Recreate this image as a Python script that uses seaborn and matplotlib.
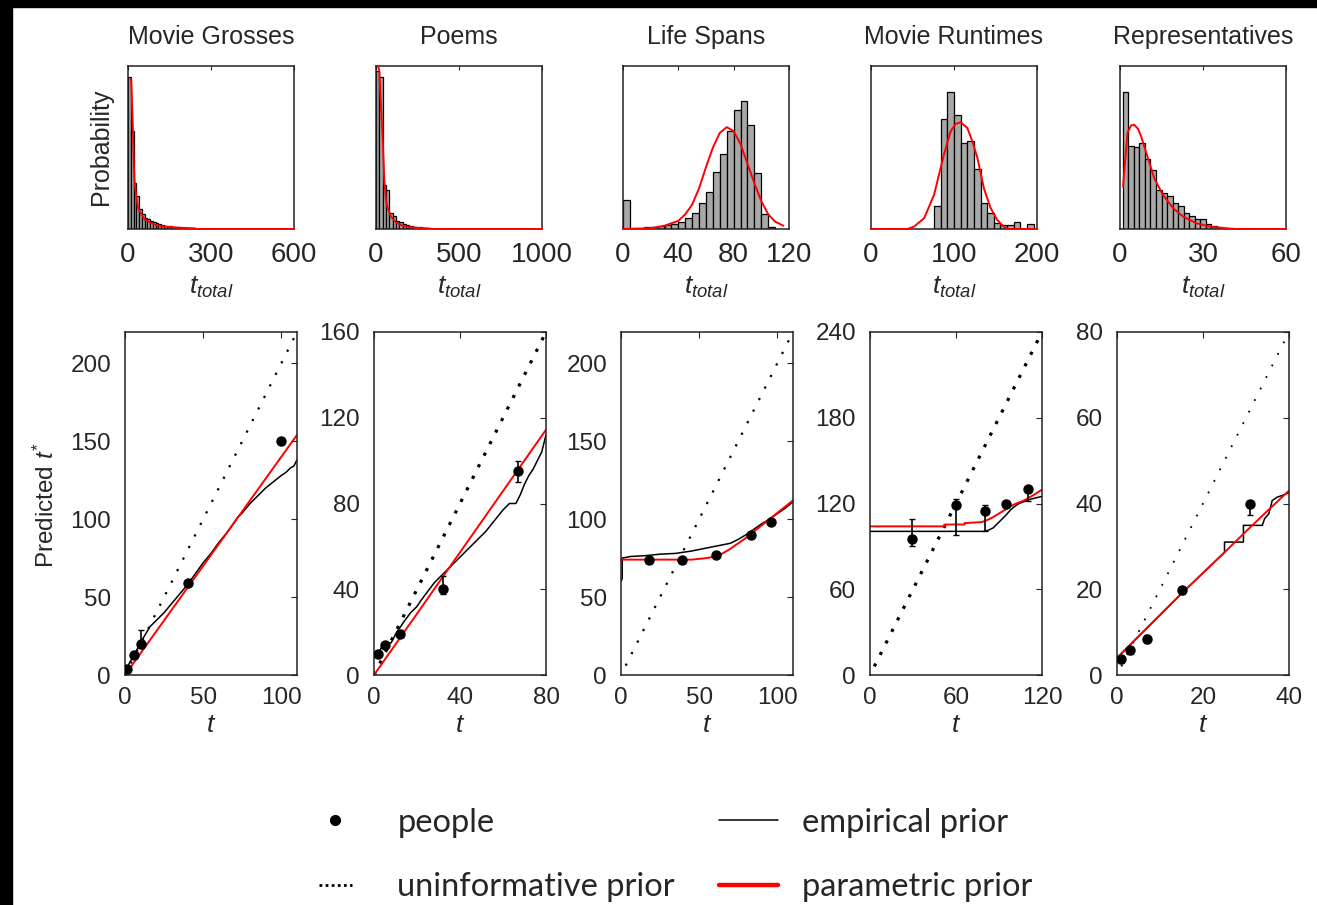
import matplotlib
matplotlib.use('Agg')
import matplotlib.pyplot as plt
from matplotlib.lines import Line2D
from matplotlib.patches import Rectangle
import numpy as np
import seaborn as sns

#%%
titles = ['Movie Grosses', 'Poems', 'Life Spans', 'Movie Runtimes', 'Representatives']

# top row: prior histograms (bin edges + relative heights) and parametric fits
grosses_edges = list(range(0, 250, 10))
grosses_heights = [0.93, 0.6, 0.28, 0.2, 0.12, 0.09, 0.07, 0.06, 0.05, 0.04, 0.035, 0.03,
                   0.025, 0.02, 0.018, 0.016, 0.014, 0.012, 0.01, 0.009, 0.008, 0.007, 0.006, 0.005]
grosses_fit_x = [10, 12, 15, 18, 21, 24, 30, 36, 48, 60, 80, 100, 130, 180, 240, 250, 600]
grosses_fit_y = [0.92, 0.9, 0.75, 0.6, 0.4, 0.28, 0.2, 0.13, 0.09, 0.06, 0.04, 0.025, 0.015, 0.008, 0.004, 0.0, 0.0]

poems_edges = list(range(0, 340, 20))
poems_heights = [0.97, 0.93, 0.27, 0.24, 0.1, 0.08, 0.05, 0.04, 0.03, 0.025, 0.02, 0.015,
                 0.012, 0.01, 0.008, 0.006]
poems_fit_x = [12, 20, 30, 40, 50, 60, 70, 90, 120, 160, 200, 260, 320, 340, 1000]
poems_fit_y = [1.0, 0.97, 0.75, 0.56, 0.3, 0.18, 0.13, 0.076, 0.04, 0.02, 0.012, 0.006, 0.003, 0.0, 0.0]

lifespan_edges = list(range(0, 115, 5))
lifespan_heights = [0.18, 0, 0, 0.01, 0.015, 0.02, 0.025, 0.03, 0.04, 0.066, 0.1, 0.16,
                    0.23, 0.35, 0.46, 0.6, 0.73, 0.785, 0.64, 0.345, 0.09, 0.01]
lifespan_fit_x = [0, 20, 30, 40, 45, 50, 55, 60, 65, 70, 75, 80, 85, 90, 95, 100, 105, 110, 116]
lifespan_fit_y = [0.0, 0.005, 0.02, 0.05, 0.09, 0.15, 0.25, 0.38, 0.5, 0.59, 0.625, 0.6, 0.52,
                  0.4, 0.28, 0.17, 0.09, 0.045, 0.02]

runtime_edges = list(range(76, 204, 8))
runtime_heights = [0.14, 0.675, 0.84, 0.7, 0.53, 0.54, 0.366, 0.16, 0.1, 0.035, 0.025, 0.025,
                   0.045, 0, 0.03]
runtime_fit_x = [0, 44, 52, 64, 76, 88, 96, 102, 108, 116, 122, 128, 136, 144, 152, 160, 166, 200]
runtime_fit_y = [0, 0, 0.015, 0.066, 0.21, 0.46, 0.6, 0.645, 0.655, 0.62, 0.54, 0.44, 0.25,
                 0.13, 0.056, 0.015, 0, 0]

reps_edges = list(range(1, 41, 2))
reps_heights = [0.84, 0.51, 0.5, 0.53, 0.43, 0.36, 0.24, 0.22, 0.2, 0.16, 0.14, 0.1, 0.08,
                0.06, 0.06, 0.03, 0.02, 0.01, 0.005]
reps_fit_x = [1.1, 2.7, 4, 5.1, 6.5, 7.6, 10, 12.4, 15.5, 19.2, 22.8, 27.7, 32.6, 37, 41.7, 60]
reps_fit_y = [0.26, 0.59, 0.635, 0.64, 0.615, 0.57, 0.44, 0.31, 0.21, 0.128, 0.076, 0.035,
              0.014, 0.006, 0.0, 0.0]

hist_xlim = [600, 1000, 120, 200, 60]
hist_xticks = [[0, 300, 600], [0, 500, 1000], [0, 40, 80, 120], [0, 100, 200], [0, 30, 60]]

#%%
# bottom row: predictions
grosses_emp_x = [0, 1, 3, 6, 10, 13, 16, 20, 25, 30, 35, 40, 45, 50, 55, 60, 65, 70, 72, 75,
                 80, 85, 90, 95, 100, 103, 106, 108, 110]
grosses_emp_y = [0, 4, 8, 13, 21, 26, 31, 35, 40, 46, 52, 58, 65, 72, 78, 85, 91, 98, 101, 104,
                 110, 115, 120, 124, 128, 130, 133, 134, 138]
grosses_par_x = [0, 20, 40, 60, 80, 100, 110]
grosses_par_y = [0, 28, 56, 84, 112, 140, 154]
grosses_unif_x = [0, 110]
grosses_unif_y = [0, 220]
grosses_people_t = [1, 6, 10, 40, 100]
grosses_people = [4, 13, 20, 59, 150]
grosses_err_lo = [1, 1, 3, 1, 1]
grosses_err_hi = [1, 1, 9, 1, 1]

poems_emp_x = [0, 2, 3.5, 5, 6.5, 8, 10, 12, 14, 17, 20, 22, 25, 28, 32, 36, 40, 44, 48, 52,
               56, 60, 63, 66, 68, 70, 72, 74, 76, 78, 80]
poems_emp_y = [9, 10, 13, 14, 15, 15, 19, 22, 25, 29, 32, 35, 39, 43, 47, 51, 55, 59, 63, 67,
               72, 77, 80, 80, 84, 89, 93, 96, 100, 104, 112]
poems_par_x = [0, 20, 40, 60, 80]
poems_par_y = [0, 28.6, 57.2, 85.8, 114.4]
poems_unif_x = [0, 80]
poems_unif_y = [0, 160]
poems_people_t = [2, 5, 12, 32, 67]
poems_people = [10, 14, 19, 40, 95]
poems_err_lo = [1, 1, 1, 2, 5]
poems_err_hi = [1, 1, 2, 6, 5]

lifespan_emp_x = [0, 0.8, 0.8, 6, 15, 25, 35, 45, 50, 55, 60, 65, 70, 75, 80, 85, 90, 95, 100,
                  105, 110]
lifespan_emp_y = [60, 62, 75, 76, 76.5, 77.5, 78, 79.5, 80.5, 81.5, 82.5, 83.5, 84.5, 87, 90,
                  93.5, 97, 100, 103.5, 107, 111]
lifespan_par_x = [0, 10, 20, 30, 40, 45, 50, 55, 60, 65, 70, 75, 80, 85, 90, 95, 100, 105, 110]
lifespan_par_y = [74, 74, 74, 74, 74, 74, 74.5, 75, 76, 78, 81, 84.5, 88, 92, 96, 100, 104, 108, 112]
lifespan_unif_x = [3, 110]
lifespan_unif_y = [6, 220]
lifespan_people_t = [18, 39, 61, 83, 96]
lifespan_people = [74, 74, 77, 90, 98]
lifespan_err_lo = [1.5, 1.5, 2, 1.5, 1.5]
lifespan_err_hi = [1.5, 1.5, 2, 1.5, 1.5]

runtime_emp_x = [0, 80, 83, 86, 89, 92, 95, 98, 101, 104, 108, 112, 116, 120]
runtime_emp_y = [100.5, 100.5, 101.5, 103, 106, 109, 112, 115.5, 118, 120, 121.5, 123, 124, 125]
runtime_par_x = [0, 52, 52, 66, 66, 78, 82, 86, 90, 94, 98, 102, 106, 110, 115, 120]
runtime_par_y = [104, 104, 105.3, 105.3, 106.3, 107, 108.5, 110.5, 113, 115.5, 118, 120, 121.5,
                 123.5, 126.5, 129.7]
runtime_unif_x = [3, 120]
runtime_unif_y = [6, 240]
runtime_people_t = [29, 60, 80, 95, 110]
runtime_people = [95, 119, 115, 120, 130]
runtime_err_lo = [5, 21, 14, 2, 8]
runtime_err_hi = [14, 4, 4, 2, 2]

reps_emp_x = [0, 5, 10, 15, 20, 25, 25, 29.4, 29.4, 33.8, 34.3, 35.3, 36.1, 37.3, 38.5, 40]
reps_emp_y = [4, 9, 14, 19, 23.8, 28.6, 31, 31, 34.9, 34.9, 36.4, 37.6, 40.7, 41.5, 41.9, 42.5]
reps_par_x = [0, 5, 10, 15, 20, 25, 30, 35, 40]
reps_par_y = [4, 9, 14, 19, 23.8, 28.6, 33.5, 38.3, 43]
reps_unif_x = [1, 40]
reps_unif_y = [2, 80]
reps_people_t = [1, 3, 7, 15, 31]
reps_people = [3.7, 5.8, 8.4, 19.8, 39.8]
reps_err_lo = [1, 1, 1, 0.8, 2.5]
reps_err_hi = [0.8, 0.8, 1, 0.8, 0.8]

pred_xlim = [110, 80, 110, 120, 40]
pred_ylim = [220, 160, 220, 240, 80]
pred_xticks = [[0, 50, 100], [0, 40, 80], [0, 50, 100], [0, 60, 120], [0, 20, 40]]
pred_yticks = [[0, 50, 100, 150, 200], [0, 40, 80, 120, 160], [0, 50, 100, 150, 200],
               [0, 60, 120, 180, 240], [0, 20, 40, 60, 80]]

#%%
hists = [
    (grosses_edges, grosses_heights, grosses_fit_x, grosses_fit_y),
    (poems_edges, poems_heights, poems_fit_x, poems_fit_y),
    (lifespan_edges, lifespan_heights, lifespan_fit_x, lifespan_fit_y),
    (runtime_edges, runtime_heights, runtime_fit_x, runtime_fit_y),
    (reps_edges, reps_heights, reps_fit_x, reps_fit_y),
]
preds = [
    (grosses_emp_x, grosses_emp_y, grosses_par_x, grosses_par_y, grosses_unif_x, grosses_unif_y,
     grosses_people_t, grosses_people, grosses_err_lo, grosses_err_hi),
    (poems_emp_x, poems_emp_y, poems_par_x, poems_par_y, poems_unif_x, poems_unif_y,
     poems_people_t, poems_people, poems_err_lo, poems_err_hi),
    (lifespan_emp_x, lifespan_emp_y, lifespan_par_x, lifespan_par_y, lifespan_unif_x, lifespan_unif_y,
     lifespan_people_t, lifespan_people, lifespan_err_lo, lifespan_err_hi),
    (runtime_emp_x, runtime_emp_y, runtime_par_x, runtime_par_y, runtime_unif_x, runtime_unif_y,
     runtime_people_t, runtime_people, runtime_err_lo, runtime_err_hi),
    (reps_emp_x, reps_emp_y, reps_par_x, reps_par_y, reps_unif_x, reps_unif_y,
     reps_people_t, reps_people, reps_err_lo, reps_err_hi),
]

#%%
sns.set_style('white')
plt.rcParams['font.family'] = ['Liberation Sans', 'DejaVu Sans']
plt.rcParams['mathtext.fontset'] = 'custom'
plt.rcParams['mathtext.rm'] = 'Liberation Sans'
plt.rcParams['mathtext.it'] = 'Liberation Sans:italic'
plt.rcParams['axes.edgecolor'] = '#222222'
plt.rcParams['axes.linewidth'] = 1.1

W, H = 1317, 905
fig = plt.figure(figsize=(W / 100, H / 100), dpi=100)
fig.patch.set_facecolor('white')

top_lefts = [128, 376, 623, 871, 1120]
bot_lefts = [125, 374, 621, 870, 1117]
dot_lw = [1.6, 2.3, 1.6, 2.3, 1.3]
text_col = '#262626'

for i in range(5):
    edges, heights, fx, fy = hists[i]
    ax = fig.add_axes([top_lefts[i] / W, 1 - 229 / H, 166 / W, 163 / H])
    centers = np.array(edges[:-1]) + np.diff(edges) / 2
    sns.histplot(x=centers, weights=heights, bins=edges, ax=ax, color='#a8a8a8',
                 edgecolor='black', linewidth=0.9, alpha=1)
    sns.lineplot(x=fx, y=fy, ax=ax, color='red', lw=1.4, estimator=None, sort=False,
                 clip_on=False, zorder=3)
    ax.set_xlim(0, hist_xlim[i])
    ax.set_ylim(0, 1)
    ax.set_xticks(hist_xticks[i])
    ax.set_yticks([])
    ax.tick_params(axis='x', direction='in', top=True, length=3, width=0.8,
                   labelsize=20, pad=9, colors=text_col)
    ax.set_ylabel('')
    ax.set_xlabel(r'$t_{total}$', fontsize=19, color=text_col)
    ax.xaxis.set_label_coords(0.5, -0.28)
    ax.set_title(titles[i], fontsize=18, color=text_col, pad=16)

fig.text(101 / W, 1 - 147 / H, 'Probability', rotation=90, ha='center', va='center',
         fontsize=18, color=text_col)

for i in range(5):
    ex, ey, px, py, ux, uy, pt, pp, elo, ehi = preds[i]
    ax = fig.add_axes([bot_lefts[i] / W, 1 - 675 / H, 172 / W, 343 / H])
    gap = 9.3 / dot_lw[i] - 1
    sns.lineplot(x=ux, y=uy, ax=ax, color='black', lw=dot_lw[i], linestyle=(0, (1, gap)),
                 estimator=None, sort=False)
    sns.lineplot(x=ex, y=ey, ax=ax, color='black', lw=1.1, estimator=None, sort=False)
    sns.lineplot(x=px, y=py, ax=ax, color='red', lw=1.4, estimator=None, sort=False)
    ax.errorbar(pt, pp, yerr=[elo, ehi], fmt='o', color='black', ms=6.5, capsize=2.5,
                elinewidth=1.2, capthick=1.0, zorder=4)
    ax.set_xlim(0, pred_xlim[i])
    ax.set_ylim(0, pred_ylim[i])
    ax.set_xticks(pred_xticks[i])
    ax.set_yticks(pred_yticks[i])
    ax.tick_params(direction='in', top=True, right=True, length=4, width=0.8,
                   labelsize=17.5, colors=text_col)
    ax.tick_params(axis='x', pad=9)
    ax.tick_params(axis='y', pad=10)
    ax.set_xlabel('$t$', fontsize=19, color=text_col)
    ax.xaxis.set_label_coords(0.5, -0.11)
    ax.set_ylabel('')

fig.text(46 / W, 1 - 505 / H, r'Predicted $t^{*}$', rotation=90, ha='center', va='center',
         fontsize=17.5, color=text_col)

#%%
# legend, two columns
leg_font = {'family': 'Lato', 'size': 23.5}
h_people = Line2D([], [], marker='o', ls='none', color='black', ms=7)
h_unif = Line2D([], [], color='black', lw=2.0, linestyle=(0, (1, 1.2)))
h_emp = Line2D([], [], color='black', lw=1.1)
h_par = Line2D([], [], color='red', lw=3.2)

leg1 = fig.legend([h_people, h_unif], ['people', 'uninformative prior'], loc='center left',
                  bbox_to_anchor=(319 / W, 1 - 855 / H), frameon=False, prop=leg_font,
                  handlelength=1.0, handletextpad=1.4, labelspacing=1.05,
                  borderpad=0, borderaxespad=0)
leg2 = fig.legend([h_emp, h_par], ['empirical prior', 'parametric prior'], loc='center left',
                  bbox_to_anchor=(719 / W, 1 - 855 / H), frameon=False, prop=leg_font,
                  handlelength=1.8, handletextpad=0.75, labelspacing=1.05,
                  borderpad=0, borderaxespad=0)

# black strips on the scanned image edges
fig.add_artist(Rectangle((0, 1 - 7 / H), 1, 7 / H, transform=fig.transFigure,
                         color='black', zorder=10))
fig.add_artist(Rectangle((0, 0), 12 / W, 1, transform=fig.transFigure,
                         color='black', zorder=10))

fig.savefig('out.png', dpi=100, facecolor='white')
